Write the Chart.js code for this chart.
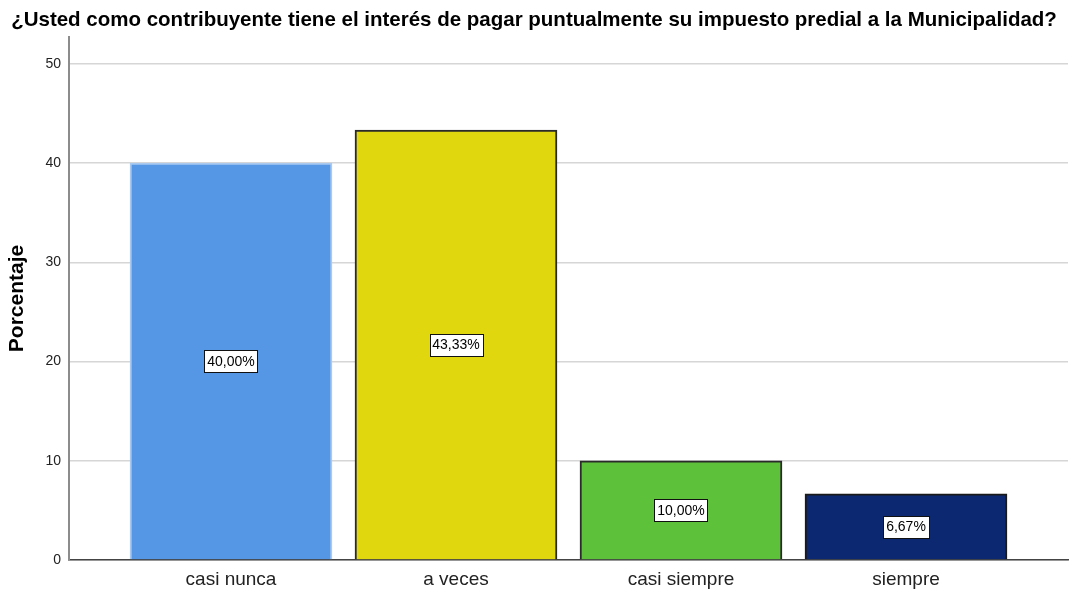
<!DOCTYPE html>
<html>
<head>
<meta charset="utf-8">
<script src="https://cdn.jsdelivr.net/npm/chart.js@4/dist/chart.umd.min.js"></script>
<style>
  html, body { margin: 0; padding: 0; background: #ffffff; }
  canvas { display: block; }
</style>
</head>
<body>
<canvas id="c" width="1073" height="594"></canvas>
<script>
const chartTitle = '¿Usted como contribuyente tiene el interés de pagar puntualmente su impuesto predial a la Municipalidad?';
const yAxisTitle = 'Porcentaje';
const categories = ['casi nunca', 'a veces', 'casi siempre', 'siempre'];
const percentages = [40.00, 43.33, 10.00, 6.67];
const valueLabels = ['40,00%', '43,33%', '10,00%', '6,67%'];
const yTickValues = [0, 10, 20, 30, 40, 50];

const barColors = ['#5596e5', '#e1d70f', '#5ec13a', '#0c2870'];
const barBorders = ['#a9c9f0', '#2a2a2a', '#2a2a2a', '#1a1a1a'];
const FONT = "'Liberation Sans', Arial, Helvetica, sans-serif";

const valueLabelPlugin = {
  id: 'valueLabels',
  afterDatasetsDraw(chart) {
    const ctx = chart.ctx;
    const meta = chart.getDatasetMeta(0);
    ctx.save();
    ctx.font = '14px ' + FONT;
    ctx.textAlign = 'center';
    ctx.textBaseline = 'middle';
    meta.data.forEach((bar, i) => {
      const txt = valueLabels[i];
      const cy = (bar.y + bar.base) / 2;
      const w = Math.round(ctx.measureText(txt).width + 6);
      const h = 22;
      const x0 = Math.round(bar.x - w / 2) + 0.5;
      const y0 = Math.round(cy - h / 2) + 0.5;
      ctx.fillStyle = '#ffffff';
      ctx.fillRect(x0, y0, w, h);
      ctx.strokeStyle = '#111111';
      ctx.lineWidth = 1;
      ctx.strokeRect(x0, y0, w, h);
      ctx.fillStyle = '#000000';
      ctx.fillText(txt, bar.x, cy + 1);
    });
    ctx.restore();
  }
};

new Chart(document.getElementById('c'), {
  type: 'bar',
  data: {
    datasets: [{
      data: categories.map((c, i) => ({ x: i, y: percentages[i] })),
      backgroundColor: barColors,
      borderColor: barBorders,
      borderWidth: 2,
      barThickness: 202
    }]
  },
  options: {
    responsive: false,
    animation: false,
    layout: { padding: { top: 0, right: 5, left: 0, bottom: 0 } },
    plugins: {
      legend: { display: false },
      tooltip: { enabled: false },
      title: {
        display: true,
        text: chartTitle,
        color: '#000000',
        font: { family: FONT, size: 20.5, weight: 'bold' },
        padding: { top: 8, bottom: 4.4 }
      }
    },
    scales: {
      x: {
        type: 'linear',
        offset: false,
        min: -0.72,
        max: 3.72,
        afterBuildTicks: (scale) => { scale.ticks = categories.map((c, i) => ({ value: i })); },
        afterFit: (scale) => { scale.height = 34; },
        grid: { display: false, drawTicks: false, offset: false },
        border: { display: true, color: '#444444', width: 1.5 },
        ticks: {
          autoSkip: false,
          maxRotation: 0,
          padding: 8,
          color: '#222222',
          font: { family: FONT, size: 19 },
          callback: (v) => categories[v]
        }
      },
      y: {
        min: 0,
        max: 52.7,
        afterBuildTicks: (scale) => { scale.ticks = yTickValues.map(v => ({ value: v })); },
        afterFit: (scale) => { scale.width = 69; },
        grid: { color: '#d6d6d6', lineWidth: 1.5, drawTicks: false },
        border: { display: true, color: '#8c8c8c', width: 2 },
        ticks: {
          padding: 8,
          color: '#222222',
          font: { family: FONT, size: 14 }
        },
        title: {
          display: true,
          text: yAxisTitle,
          color: '#000000',
          font: { family: FONT, size: 21, weight: 'bold' },
          padding: { top: 5, bottom: 0 }
        }
      }
    }
  },
  plugins: [valueLabelPlugin]
});
</script>
</body>
</html>
